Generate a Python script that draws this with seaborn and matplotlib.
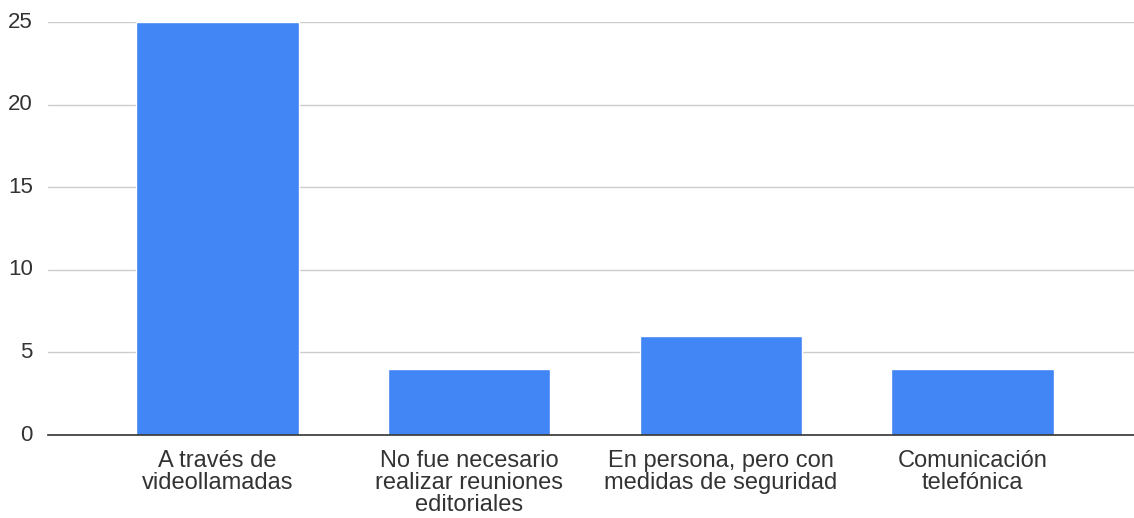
import matplotlib
matplotlib.use("Agg")
import matplotlib.pyplot as plt
import pandas as pd
import seaborn as sns

categories = [
    "A través de\nvideollamadas",
    "No fue necesario\nrealizar reuniones\neditoriales",
    "En persona, pero con\nmedidas de seguridad",
    "Comunicación\ntelefónica",
]
counts = [25, 4, 6, 4]
y_ticks = [0, 5, 10, 15, 20, 25]

sns.set_theme(style="white")
plt.rcParams["font.family"] = ["Liberation Sans", "DejaVu Sans"]

df = pd.DataFrame({"category": categories, "count": counts})

fig = plt.figure(figsize=(11.34, 5.18), dpi=100)
ax = fig.add_axes([0.0423, 0.160, 0.9577, 0.7975])
sns.barplot(data=df, x="category", y="count", color="#4285F4", saturation=1,
            width=0.645, ax=ax, zorder=3)

ax.set_xlim(-0.673, 3.642)
ax.set_ylim(0, 25)
ax.set_yticks(y_ticks)
ax.yaxis.grid(True, color="#cccccc", linewidth=1, zorder=0)
ax.set_axisbelow(True)
for s in ["top", "right", "left"]:
    ax.spines[s].set_visible(False)
ax.spines["bottom"].set_color("#333333")
ax.spines["bottom"].set_linewidth(1.2)
ax.spines["bottom"].set_zorder(4)
ax.set_xlabel("")
ax.set_ylabel("")
ax.tick_params(axis="x", length=0, labelsize=17, colors="#333333", pad=11)
ax.tick_params(axis="y", length=0, labelsize=16, colors="#333333", pad=11)
for lbl in ax.get_xticklabels():
    lbl.set_linespacing(1.0)
for lbl in ax.get_yticklabels():
    lbl.set_verticalalignment("center")

fig.savefig("out.png", dpi=100)
